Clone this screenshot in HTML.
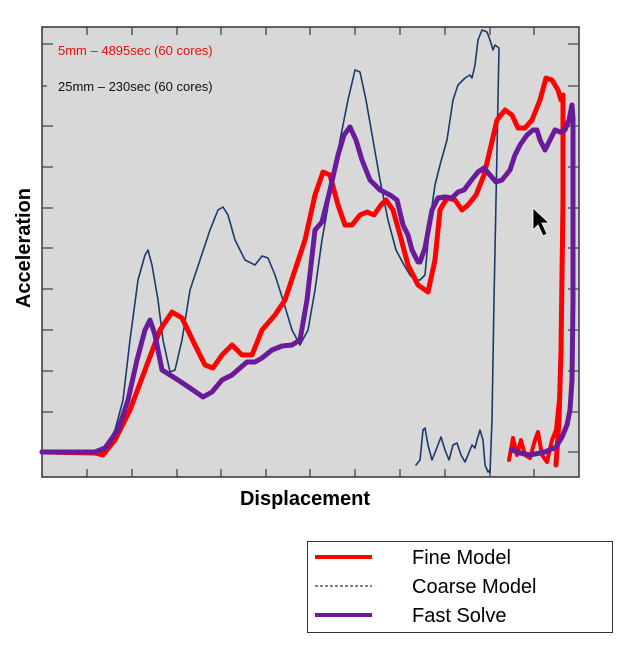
<!DOCTYPE html>
<html><head><meta charset="utf-8"><style>
html,body{margin:0;padding:0;background:#fff;}
svg{display:block;}
text{font-family:"Liberation Sans",sans-serif;}
</style></head><body>
<svg width="629" height="649" viewBox="0 0 629 649" xmlns="http://www.w3.org/2000/svg">
<rect x="42" y="27" width="537" height="450" fill="#d8d8d8" stroke="#333" stroke-width="1.5"/>
<g stroke="#444" stroke-width="1.3">
<path d="M87 27v8M132 27v8M177 27v8M221 27v8M266 27v8M310 27v8M355 27v8M400 27v8M445 27v8M490 27v8M534 27v8"/>
<path d="M87 477v-8M132 477v-8M177 477v-8M221 477v-8M266 477v-8M310 477v-8M355 477v-8M400 477v-8M445 477v-8M490 477v-8M534 477v-8"/>
<path d="M42 44h11M42 86h5M42 126h11M42 167h11M42 208h11M42 248h11M42 289h11M42 330h11M42 371h11M42 412h11M42 452h11"/>
<path d="M579 44h-11M579 86h-11M579 126h-11M579 167h-11M579 208h-11M579 248h-11M579 289h-11M579 330h-11M579 371h-11M579 412h-11M579 452h-11"/>
</g>
<text x="58" y="55" font-size="13" fill="#e01010">5mm – 4895sec (60 cores)</text>
<text x="58" y="91" font-size="13" fill="#111">25mm – 230sec (60 cores)</text>
<g fill="none" stroke-linejoin="round" stroke-linecap="round">
<polyline stroke="#1a3a6b" stroke-width="1.6" points="42,452 95,452 105,448 115,430 123,400 130,340 138,280 145,255 148,250 152,265 158,300 163,340 170,372 175,370 182,340 190,290 200,260 210,230 218,210 223,207 228,215 235,240 245,260 255,265 262,256 268,258 275,275 283,300 292,330 300,345 308,330 315,290 322,240 330,195 340,140 348,100 355,70 360,72 366,100 373,140 380,180 388,220 396,250 404,265 410,275 415,280 420,280 425,275 430,220 435,185 440,165 447,140 453,100 458,85 465,78 470,75 472,78 475,65 478,40 482,30 487,32 490,40 493,50 495,45 499,48 497,150 494,300 492,420 490,473"/>
<polyline stroke="#1a3a6b" stroke-width="1.6" points="416,465 420,460 423,430 425,428 428,445 432,460 436,450 441,437 445,450 449,460 453,445 457,443 461,455 465,462 468,455 472,445 475,448 477,440 480,430 483,440 485,465 488,472 490,470"/>
<polyline stroke="#ff0000" stroke-width="5" points="42,452 95,453 103,455 115,440 130,410 145,370 160,330 172,312 182,318 195,345 205,365 213,368 222,355 232,345 242,355 252,355 262,330 275,315 285,300 295,270 305,240 315,195 323,172 330,175 338,205 345,225 352,225 360,215 367,212 374,215 381,205 386,200 393,210 400,235 408,265 418,285 428,292 435,260 440,210 447,198 455,200 462,210 468,205 476,195 484,175 490,150 497,120 505,110 512,115 518,128 525,128 532,120 540,100 546,78 552,80 558,90 561,100 563,95 563,200 561,350 559,420 557,450 556,465"/>
<polyline stroke="#ff0000" stroke-width="4" points="509,460 513,438 517,455 521,440 525,455 530,458 535,440 538,432 542,455 547,462 552,440 556,430 559,400"/>
<polyline stroke="#6a1b9a" stroke-width="5" points="42,452 95,452 105,448 118,430 128,400 137,360 145,330 150,320 155,335 162,370 170,375 178,380 190,388 203,397 212,392 222,380 232,375 240,368 247,362 255,362 262,358 272,350 282,346 292,345 300,340 307,300 315,230 322,222 330,190 338,155 344,135 350,127 356,140 362,160 370,180 380,190 390,195 397,200 403,225 408,235 412,250 418,262 420,262 425,248 432,210 438,198 445,197 452,198 458,192 464,190 470,182 478,172 484,168 490,175 496,182 502,180 510,170 515,155 520,145 527,135 533,130 537,130 540,140 545,150 550,140 555,130 560,132 565,130 569,120 572,105 573,118 573,300 572,380 570,410 567,425 562,437 556,447 545,452 530,455 520,453 512,450"/>
</g>
<path d="M533,208 L533,230 L538,225 L543,236 L547,234 L542,223 L549,223 Z" fill="#000" stroke="#fff" stroke-width="0.8"/>
<text x="305" y="505" font-size="20" font-weight="bold" text-anchor="middle" fill="#000">Displacement</text>
<text transform="translate(30,248) rotate(-90)" font-size="20" font-weight="bold" text-anchor="middle" fill="#000">Acceleration</text>
<rect x="307.5" y="541.5" width="305" height="91" fill="#fff" stroke="#333" stroke-width="1"/>
<line x1="315" y1="557" x2="372" y2="557" stroke="#ff0000" stroke-width="4"/>
<line x1="315" y1="586" x2="372" y2="586" stroke="#1a3a6b" stroke-width="1.2" stroke-dasharray="3,2"/>
<line x1="315" y1="615" x2="372" y2="615" stroke="#6a1b9a" stroke-width="4"/>
<text x="412" y="564" font-size="20" fill="#000">Fine Model</text>
<text x="412" y="593" font-size="20" fill="#000">Coarse Model</text>
<text x="412" y="622" font-size="20" fill="#000">Fast Solve</text>
</svg>
</body></html>
